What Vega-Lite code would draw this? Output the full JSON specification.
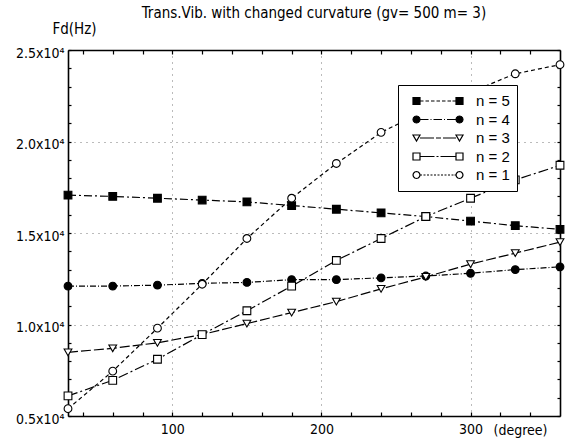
{
  "$schema": "https://vega.github.io/schema/vega-lite/v6.json",
  "width": 492,
  "height": 366,
  "autosize": "none",
  "padding": {"left": 68, "top": 50, "right": 6, "bottom": 23},
  "background": "white",
  "config": {
    "view": {"stroke": null},
    "font": "Liberation Sans Narrow, DejaVu Sans Condensed, sans-serif",
    "axis": {"domainColor": "black", "domainWidth": 1.6, "tickColor": "black", "labelColor": "black", "titleColor": "black", "labelFont": "Liberation Sans Narrow, DejaVu Sans Condensed, sans-serif", "titleFont": "Liberation Sans Narrow, DejaVu Sans Condensed, sans-serif", "titleFontWeight": "normal"}
  },
  "title": {"text": "Trans.Vib. with changed curvature (gv= 500 m= 3)", "fontSize": 15, "fontWeight": "normal", "font": "Liberation Sans Narrow, DejaVu Sans Condensed, sans-serif", "color": "black", "anchor": "middle", "offset": 4, "dy": 4},
  "data": {"values": [
    {"deg": 30, "n": "n = 5", "fd": 17070}, {"deg": 60, "n": "n = 5", "fd": 17000}, {"deg": 90, "n": "n = 5", "fd": 16900}, {"deg": 120, "n": "n = 5", "fd": 16800}, {"deg": 150, "n": "n = 5", "fd": 16700}, {"deg": 180, "n": "n = 5", "fd": 16500}, {"deg": 210, "n": "n = 5", "fd": 16300}, {"deg": 240, "n": "n = 5", "fd": 16100}, {"deg": 270, "n": "n = 5", "fd": 15900}, {"deg": 300, "n": "n = 5", "fd": 15650}, {"deg": 330, "n": "n = 5", "fd": 15400}, {"deg": 360, "n": "n = 5", "fd": 15200},
    {"deg": 30, "n": "n = 4", "fd": 12100}, {"deg": 60, "n": "n = 4", "fd": 12100}, {"deg": 90, "n": "n = 4", "fd": 12150}, {"deg": 120, "n": "n = 4", "fd": 12250}, {"deg": 150, "n": "n = 4", "fd": 12300}, {"deg": 180, "n": "n = 4", "fd": 12450}, {"deg": 210, "n": "n = 4", "fd": 12450}, {"deg": 240, "n": "n = 4", "fd": 12550}, {"deg": 270, "n": "n = 4", "fd": 12650}, {"deg": 300, "n": "n = 4", "fd": 12800}, {"deg": 330, "n": "n = 4", "fd": 13000}, {"deg": 360, "n": "n = 4", "fd": 13150},
    {"deg": 30, "n": "n = 3", "fd": 8480}, {"deg": 60, "n": "n = 3", "fd": 8700}, {"deg": 90, "n": "n = 3", "fd": 9000}, {"deg": 120, "n": "n = 3", "fd": 9450}, {"deg": 150, "n": "n = 3", "fd": 10050}, {"deg": 180, "n": "n = 3", "fd": 10650}, {"deg": 210, "n": "n = 3", "fd": 11250}, {"deg": 240, "n": "n = 3", "fd": 11950}, {"deg": 270, "n": "n = 3", "fd": 12600}, {"deg": 300, "n": "n = 3", "fd": 13300}, {"deg": 330, "n": "n = 3", "fd": 13900}, {"deg": 360, "n": "n = 3", "fd": 14500},
    {"deg": 30, "n": "n = 2", "fd": 6100}, {"deg": 60, "n": "n = 2", "fd": 6950}, {"deg": 90, "n": "n = 2", "fd": 8100}, {"deg": 120, "n": "n = 2", "fd": 9450}, {"deg": 150, "n": "n = 2", "fd": 10750}, {"deg": 180, "n": "n = 2", "fd": 12100}, {"deg": 210, "n": "n = 2", "fd": 13500}, {"deg": 240, "n": "n = 2", "fd": 14700}, {"deg": 270, "n": "n = 2", "fd": 15900}, {"deg": 300, "n": "n = 2", "fd": 16900}, {"deg": 330, "n": "n = 2", "fd": 17900}, {"deg": 360, "n": "n = 2", "fd": 18700},
    {"deg": 30, "n": "n = 1", "fd": 5400}, {"deg": 60, "n": "n = 1", "fd": 7450}, {"deg": 90, "n": "n = 1", "fd": 9800}, {"deg": 120, "n": "n = 1", "fd": 12200}, {"deg": 150, "n": "n = 1", "fd": 14700}, {"deg": 180, "n": "n = 1", "fd": 16900}, {"deg": 210, "n": "n = 1", "fd": 18800}, {"deg": 240, "n": "n = 1", "fd": 20500}, {"deg": 270, "n": "n = 1", "fd": 21700}, {"deg": 300, "n": "n = 1", "fd": 22700}, {"deg": 330, "n": "n = 1", "fd": 23700}, {"deg": 360, "n": "n = 1", "fd": 24200}
  ]},
  "resolve": {"axis": {"x": "independent", "y": "independent"}},
  "layer": [
    {
      "mark": {"type": "line", "color": "black", "strokeWidth": 1.2, "clip": true},
      "encoding": {
        "x": {"field": "deg", "type": "quantitative", "scale": {"domain": [30, 360], "nice": false, "zero": false},
          "axis": {"orient": "bottom", "values": [40, 60, 80, 100, 120, 140, 160, 180, 200, 220, 240, 260, 280, 300, 320, 340],
            "labelExpr": "datum.value % 100 === 0 ? datum.label : ''", "labelOverlap": false, "labelFontSize": 14, "labelPadding": 10,
            "tickSize": -4, "tickWidth": 1.2,
            "grid": true, "gridColor": "#555", "gridDash": [1, 5], "gridOpacity": {"condition": {"test": "datum.value % 100 === 0", "value": 0.8}, "value": 0},
            "title": "(degree)", "titleFontSize": 14, "titleX": 479, "titleY": 14, "titleAlign": "right", "titleBaseline": "middle", "titleAnchor": "end"}},
        "y": {"field": "fd", "type": "quantitative", "scale": {"domain": [5000, 25000], "nice": false, "zero": false},
          "axis": {"orient": "left", "values": [5000, 6000, 7000, 8000, 9000, 10000, 11000, 12000, 13000, 14000, 15000, 16000, 17000, 18000, 19000, 20000, 21000, 22000, 23000, 24000, 25000],
            "labelExpr": "datum.value % 5000 === 0 ? format(datum.value / 10000, '.1f') + 'x10⁴' : ''", "labelOverlap": false, "labelFontSize": 14, "labelPadding": 7, "labelOffset": 3,
            "tickSize": -3, "tickWidth": 1.2,
            "grid": true, "gridColor": "#555", "gridDash": [1, 5], "gridOpacity": {"condition": {"test": "datum.value % 5000 === 0", "value": 0.8}, "value": 0},
            "title": "Fd(Hz)", "titleFontSize": 15, "titleAngle": 0, "titleX": -16, "titleY": -22, "titleAlign": "left", "titleBaseline": "middle"}},
        "detail": {"field": "n"},
        "strokeDash": {"condition": [
          {"test": "datum.n === 'n = 5'", "value": [8, 3, 2, 3]},
          {"test": "datum.n === 'n = 4'", "value": [6, 2, 1, 2]},
          {"test": "datum.n === 'n = 3'", "value": [10, 3]},
          {"test": "datum.n === 'n = 2'", "value": [10, 3, 2, 3]}
        ], "value": [4, 3]}
      }
    },
    {
      "mark": {"type": "point", "filled": true, "stroke": "black", "strokeWidth": 1.1, "size": 60, "opacity": 1, "clip": false},
      "encoding": {
        "x": {"field": "deg", "type": "quantitative",
          "axis": {"orient": "top", "values": [40, 60, 80, 100, 120, 140, 160, 180, 200, 220, 240, 260, 280, 300, 320, 340], "labels": false, "tickSize": -4, "tickWidth": 1.2, "grid": false, "title": null}},
        "y": {"field": "fd", "type": "quantitative",
          "axis": {"orient": "right", "values": [5000, 6000, 7000, 8000, 9000, 10000, 11000, 12000, 13000, 14000, 15000, 16000, 17000, 18000, 19000, 20000, 21000, 22000, 23000, 24000, 25000], "labels": false, "tickSize": -3, "tickWidth": 1.2, "grid": false, "title": null}},
        "fill": {"condition": {"test": "datum.n === 'n = 5' || datum.n === 'n = 4'", "value": "black"}, "value": "white"},
        "shape": {"condition": [
          {"test": "datum.n === 'n = 5'", "value": "square"},
          {"test": "datum.n === 'n = 4'", "value": "circle"},
          {"test": "datum.n === 'n = 3'", "value": "triangle-down"},
          {"test": "datum.n === 'n = 2'", "value": "square"}
        ], "value": "circle"}
      }
    },
    {
      "mark": {"type": "point", "filled": true, "strokeWidth": 1.2, "size": 60, "opacity": 0},
      "encoding": {
        "x": {"field": "deg", "type": "quantitative", "axis": null},
        "y": {"field": "fd", "type": "quantitative", "axis": null},
        "stroke": {"field": "n", "type": "nominal",
          "scale": {"domain": ["n = 5", "n = 4", "n = 3", "n = 2", "n = 1"], "range": ["black", "black", "black", "black", "black"]},
          "legend": {"title": null, "orient": "none", "legendX": 330, "legendY": 35, "fillColor": "white", "strokeColor": "black", "padding": 7,
            "symbolSize": 2500, "clipHeight": 18, "rowPadding": 0.5, "symbolOffset": 7, "labelOffset": 12, "symbolOpacity": 1, "symbolStrokeWidth": 1.2,
            "labelFontSize": 15, "labelFont": "Liberation Sans, Arial, sans-serif", "labelColor": "black"}},
        "fill": {"field": "n", "type": "nominal",
          "scale": {"domain": ["n = 5", "n = 4", "n = 3", "n = 2", "n = 1"], "range": ["black", "black", "white", "white", "white"]},
          "legend": {"title": null, "orient": "none", "legendX": 330, "legendY": 35, "fillColor": "white", "strokeColor": "black", "padding": 7,
            "symbolSize": 2500, "clipHeight": 18, "rowPadding": 0.5, "symbolOffset": 7, "labelOffset": 12, "symbolOpacity": 1, "symbolStrokeWidth": 1.2,
            "labelFontSize": 15, "labelFont": "Liberation Sans, Arial, sans-serif", "labelColor": "black"}},
        "shape": {"field": "n", "type": "nominal",
          "scale": {"domain": ["n = 5", "n = 4", "n = 3", "n = 2", "n = 1"], "range": [
            "M-1,-0.14L-0.72,-0.14L-0.72,0.14L-1,0.14ZM0.72,-0.14L1,-0.14L1,0.14L0.72,0.14ZM-0.72,0L-0.58,0M-0.5,0L-0.36,0M-0.28,0L-0.14,0M-0.06,0L0.08,0M0.16,0L0.3,0M0.38,0L0.52,0M0.58,0L0.72,0",
            "M-0.72,0L-0.739,0.07L-0.79,0.121L-0.86,0.14L-0.93,0.121L-0.981,0.07L-1,0L-0.981,-0.07L-0.93,-0.121L-0.86,-0.14L-0.79,-0.121L-0.739,-0.07ZM1,0L0.981,0.07L0.93,0.121L0.86,0.14L0.79,0.121L0.739,0.07L0.72,0L0.739,-0.07L0.79,-0.121L0.86,-0.14L0.93,-0.121L0.981,-0.07ZM-0.72,0L-0.38,0M-0.3,0L-0.26,0M-0.18,0L0.16,0M0.24,0L0.28,0M0.36,0L0.72,0",
            "M-1,-0.12L-0.72,-0.12L-0.86,0.12ZM0.72,-0.12L1,-0.12L0.86,0.12ZM-0.72,0L-0.16,0M-0.08,0L0.12,0M0.2,0L0.72,0",
            "M-1,-0.14L-0.72,-0.14L-0.72,0.14L-1,0.14ZM0.72,-0.14L1,-0.14L1,0.14L0.72,0.14ZM-0.72,0L-0.14,0M-0.06,0L0.02,0M0.1,0L0.72,0",
            "M-0.72,0L-0.739,0.07L-0.79,0.121L-0.86,0.14L-0.93,0.121L-0.981,0.07L-1,0L-0.981,-0.07L-0.93,-0.121L-0.86,-0.14L-0.79,-0.121L-0.739,-0.07ZM1,0L0.981,0.07L0.93,0.121L0.86,0.14L0.79,0.121L0.739,0.07L0.72,0L0.739,-0.07L0.79,-0.121L0.86,-0.14L0.93,-0.121L0.981,-0.07ZM-0.72,0L-0.64,0M-0.58,0L-0.5,0M-0.44,0L-0.36,0M-0.3,0L-0.22,0M-0.16,0L-0.08,0M-0.02,0L0.06,0M0.12,0L0.2,0M0.26,0L0.34,0M0.4,0L0.48,0M0.54,0L0.62,0M0.66,0L0.72,0"
          ]},
          "legend": {"title": null, "orient": "none", "legendX": 330, "legendY": 35, "fillColor": "white", "strokeColor": "black", "padding": 7,
            "symbolSize": 2500, "clipHeight": 18, "rowPadding": 0.5, "symbolOffset": 7, "labelOffset": 12, "symbolOpacity": 1, "symbolStrokeWidth": 1.2,
            "labelFontSize": 15, "labelFont": "Liberation Sans, Arial, sans-serif", "labelColor": "black"}}
      }
    }
  ]
}
